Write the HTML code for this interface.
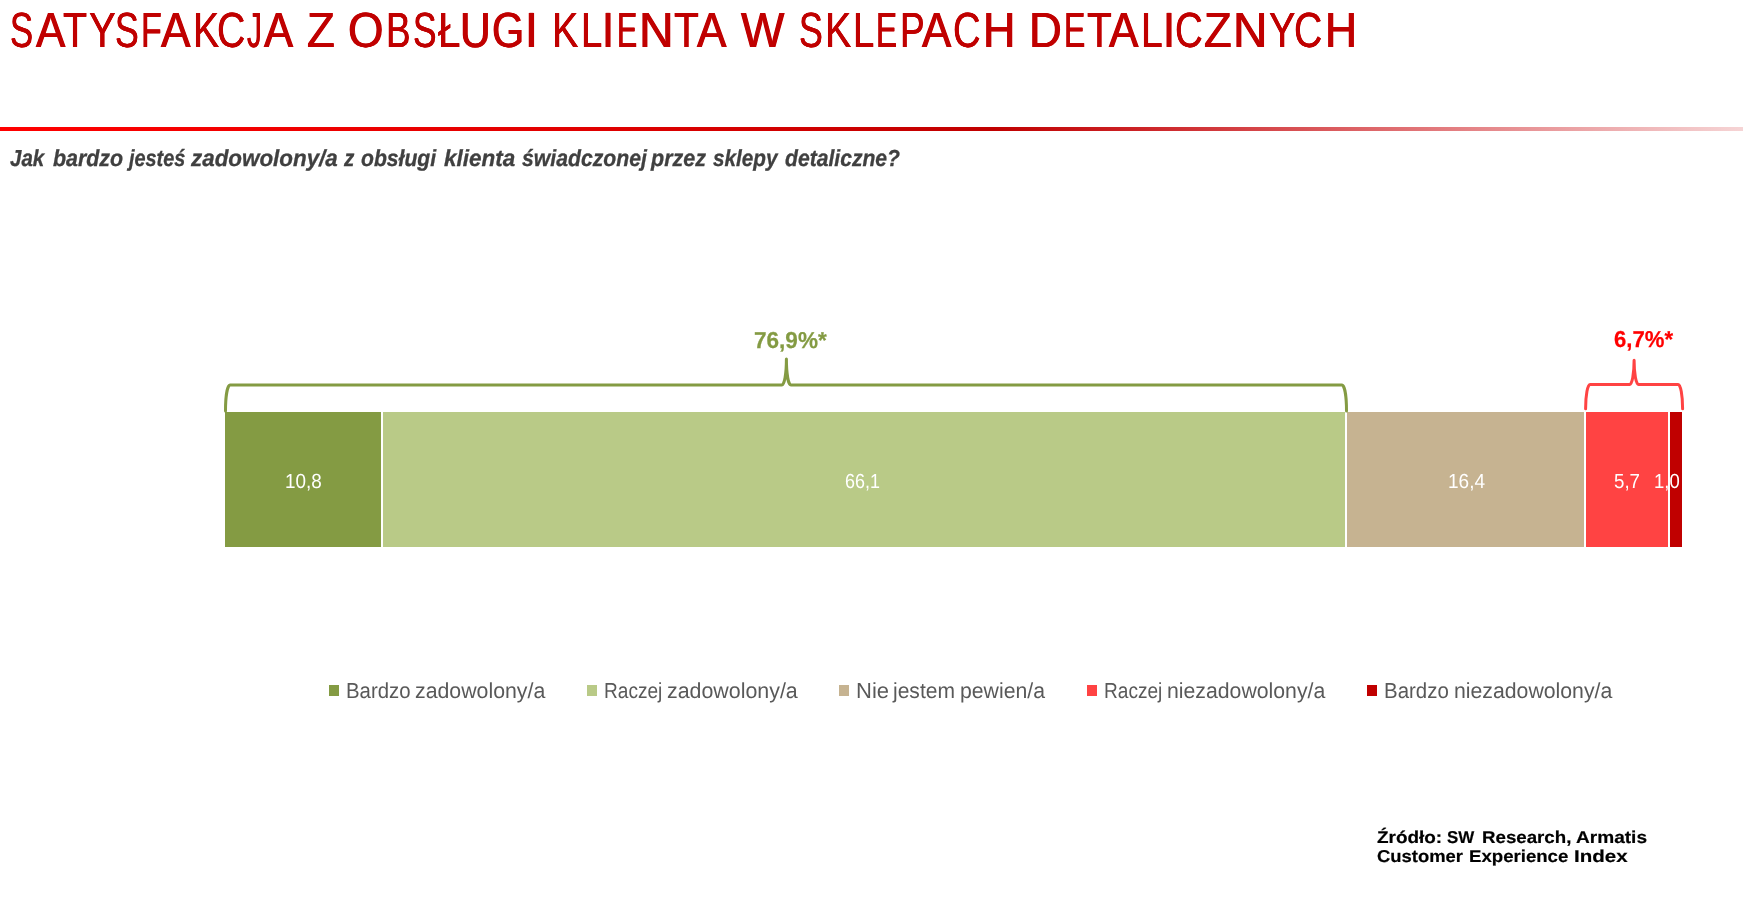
<!DOCTYPE html>
<html lang="pl">
<head>
<meta charset="utf-8">
<title>Satysfakcja z obsługi klienta</title>
<style>
  html, body { margin: 0; padding: 0; background: #ffffff; }
  body { width: 1743px; height: 899px; position: relative; overflow: hidden;
         font-family: "Liberation Sans", sans-serif; }
  .abs { position: absolute; white-space: nowrap; transform-origin: 0 0; line-height: 1; text-rendering: geometricPrecision; }
  #rule { position: absolute; left: 0; top: 127px; width: 1743px; height: 4px;
          background: linear-gradient(to right, #ff0000 0%, #e00000 34%, #c00000 57%, rgba(196,0,4,0.86) 65.6%, rgba(200,0,6,0.52) 82.6%, rgba(200,0,6,0.17) 100%); }
  .bar { position: absolute; top: 412px; height: 135px; }
  .mk  { position: absolute; top: 685.2px; width: 10px; height: 10.6px; }
  .tw { font-size:49.5px;text-shadow:0.45px 0 0 #c00000, -0.45px 0 0 #c00000; color:#c00000; }
  .sb { font-size:23.2px;font-weight:bold;font-style:italic;-webkit-text-stroke:0.3px #404040; color:#404040; }
  .val { font-size:20.4px; color:#ffffff; }
  .p1 { font-size:23.0px;font-weight:bold;-webkit-text-stroke:0.25px #849b43; color:#849b43; }
  .p2 { font-size:23.0px;font-weight:bold;-webkit-text-stroke:0.25px #ff0000; color:#ff0000; }
  .lg { font-size:21.7px; color:#595959; }
  .s1 { font-size:17.1px;font-weight:bold;-webkit-text-stroke:0.2px #000; color:#000000; }
  .s2 { font-size:17.1px;font-weight:bold;-webkit-text-stroke:0.2px #000; color:#000000; }
</style>
</head>
<body>
<div id="rule"></div>

<!-- bars -->
<div class="bar" style="left:225px; width:156px; background:#849b43;"></div>
<div class="bar" style="left:383px; width:962px; background:#b9ca87;"></div>
<div class="bar" style="left:1347px; width:237px; background:#c6b391;"></div>
<div class="bar" style="left:1586px; width:82px; background:#ff4343;"></div>
<div class="bar" style="left:1670px; width:12px; background:#c00000;"></div>

<!-- braces -->
<svg class="abs" style="left:0; top:0;" width="1743" height="899" viewBox="0 0 1743 899">
  <path d="M225.5 411 A4.5 26 0 0 1 230 385 L781.9 385 A4.5 26 0 0 0 786.4 359 A4.5 26 0 0 0 790.9 385 L1342 385 A4.5 26 0 0 1 1346.5 411"
        fill="none" stroke="#849b43" stroke-width="3" stroke-linecap="round" stroke-linejoin="round"/>
  <path d="M1585.6 408.7 A4.5 24.2 0 0 1 1590.1 384.5 L1629.6 384.5 A4.5 24.2 0 0 0 1634.1 360.3 A4.5 24.2 0 0 0 1638.6 384.5 L1678.1 384.5 A4.5 24.2 0 0 1 1682.6 408.7"
        fill="none" stroke="#ff4343" stroke-width="3" stroke-linecap="round" stroke-linejoin="round"/>
</svg>

<!-- legend markers -->
<div class="mk" style="left:329px; background:#849b43;"></div>
<div class="mk" style="left:587px; background:#b9ca87;"></div>
<div class="mk" style="left:839px; background:#c6b391;"></div>
<div class="mk" style="left:1087px; background:#ff4343;"></div>
<div class="mk" style="left:1367px; background:#c00000;"></div>

<!-- all text (title words, subtitle words, values, percentages, legend labels, source) -->
<div id="texts" style="position:absolute; left:0; top:0; width:1743px; height:899px; will-change:transform;">
<span class="abs tw" style="left:10.48px; top:6.00px; transform:scaleX(0.7005);">S</span>
<span class="abs tw" style="left:35.51px; top:6.00px; transform:scaleX(0.8890);">A</span>
<span class="abs tw" style="left:63.09px; top:6.00px; transform:scaleX(0.7962);">T</span>
<span class="abs tw" style="left:88.56px; top:6.00px; transform:scaleX(0.8105);">Y</span>
<span class="abs tw" style="left:115.46px; top:6.00px; transform:scaleX(0.7200);">S</span>
<span class="abs tw" style="left:141.32px; top:6.00px; transform:scaleX(0.6880);">F</span>
<span class="abs tw" style="left:160.87px; top:6.00px; transform:scaleX(0.8940);">A</span>
<span class="abs tw" style="left:192.53px; top:6.00px; transform:scaleX(0.7931);">K</span>
<span class="abs tw" style="left:217.41px; top:6.00px; transform:scaleX(0.7926);">C</span>
<span class="abs tw" style="left:246.84px; top:6.00px; transform:scaleX(0.6005);">J</span>
<span class="abs tw" style="left:263.77px; top:6.00px; transform:scaleX(0.8821);">A</span>
<span class="abs tw" style="left:307.05px; top:6.00px; transform:scaleX(0.9189);">Z</span>
<span class="abs tw" style="left:348.26px; top:6.00px; transform:scaleX(0.9217);">O</span>
<span class="abs tw" style="left:386.41px; top:6.00px; transform:scaleX(0.7444);">B</span>
<span class="abs tw" style="left:412.82px; top:6.00px; transform:scaleX(0.7128);">S</span>
<span class="abs tw" style="left:437.80px; top:6.00px; transform:scaleX(0.8152);">Ł</span>
<span class="abs tw" style="left:460.29px; top:6.00px; transform:scaleX(0.8591);">U</span>
<span class="abs tw" style="left:492.33px; top:6.00px; transform:scaleX(0.8346);">G</span>
<span class="abs tw" style="left:524.93px; top:6.00px; transform:scaleX(0.9333);">I</span>
<span class="abs tw" style="left:552.10px; top:6.00px; transform:scaleX(0.8000);">K</span>
<span class="abs tw" style="left:580.60px; top:6.00px; transform:scaleX(0.7733);">L</span>
<span class="abs tw" style="left:601.88px; top:6.00px; transform:scaleX(0.8762);">I</span>
<span class="abs tw" style="left:616.50px; top:6.00px; transform:scaleX(0.6145);">E</span>
<span class="abs tw" style="left:639.06px; top:6.00px; transform:scaleX(0.9699);">N</span>
<span class="abs tw" style="left:674.38px; top:6.00px; transform:scaleX(0.8243);">T</span>
<span class="abs tw" style="left:696.52px; top:6.00px; transform:scaleX(0.8925);">A</span>
<span class="abs tw" style="left:740.73px; top:6.00px; transform:scaleX(0.9291);">W</span>
<span class="abs tw" style="left:798.66px; top:6.00px; transform:scaleX(0.7214);">S</span>
<span class="abs tw" style="left:825.11px; top:6.00px; transform:scaleX(0.7966);">K</span>
<span class="abs tw" style="left:853.20px; top:6.00px; transform:scaleX(0.7733);">L</span>
<span class="abs tw" style="left:875.80px; top:6.00px; transform:scaleX(0.6400);">E</span>
<span class="abs tw" style="left:899.69px; top:6.00px; transform:scaleX(0.7481);">P</span>
<span class="abs tw" style="left:922.32px; top:6.00px; transform:scaleX(0.8866);">A</span>
<span class="abs tw" style="left:952.66px; top:6.00px; transform:scaleX(0.7721);">C</span>
<span class="abs tw" style="left:982.60px; top:6.00px; transform:scaleX(0.9062);">H</span>
<span class="abs tw" style="left:1029.46px; top:6.00px; transform:scaleX(0.9167);">D</span>
<span class="abs tw" style="left:1064.47px; top:6.00px; transform:scaleX(0.6473);">E</span>
<span class="abs tw" style="left:1086.98px; top:6.00px; transform:scaleX(0.8209);">T</span>
<span class="abs tw" style="left:1109.32px; top:6.00px; transform:scaleX(0.8925);">A</span>
<span class="abs tw" style="left:1140.75px; top:6.00px; transform:scaleX(0.7867);">L</span>
<span class="abs tw" style="left:1163.08px; top:6.00px; transform:scaleX(0.8762);">I</span>
<span class="abs tw" style="left:1175.44px; top:6.00px; transform:scaleX(0.7783);">C</span>
<span class="abs tw" style="left:1204.46px; top:6.00px; transform:scaleX(0.9153);">Z</span>
<span class="abs tw" style="left:1233.19px; top:6.00px; transform:scaleX(0.9628);">N</span>
<span class="abs tw" style="left:1268.50px; top:6.00px; transform:scaleX(0.8000);">Y</span>
<span class="abs tw" style="left:1294.12px; top:6.00px; transform:scaleX(0.7907);">C</span>
<span class="abs tw" style="left:1324.74px; top:6.00px; transform:scaleX(0.8956);">H</span>
<span class="abs sb" style="left:9.88px; top:146.84px; transform:scaleX(0.8835);">Jak</span>
<span class="abs sb" style="left:52.67px; top:146.84px; transform:scaleX(0.9227);">bardzo</span>
<span class="abs sb" style="left:128.84px; top:146.84px; transform:scaleX(0.8563);">jesteś</span>
<span class="abs sb" style="left:191.24px; top:146.84px; transform:scaleX(0.9654);">zadowolony/a</span>
<span class="abs sb" style="left:344.12px; top:146.84px; transform:scaleX(0.8936);">z</span>
<span class="abs sb" style="left:361.34px; top:146.84px; transform:scaleX(0.9115);">obsługi</span>
<span class="abs sb" style="left:444.06px; top:146.84px; transform:scaleX(0.9691);">klienta</span>
<span class="abs sb" style="left:521.97px; top:146.84px; transform:scaleX(0.9141);">świadczonej</span>
<span class="abs sb" style="left:650.76px; top:146.84px; transform:scaleX(0.9272);">przez</span>
<span class="abs sb" style="left:713.28px; top:146.84px; transform:scaleX(0.8932);">sklepy</span>
<span class="abs sb" style="left:785.04px; top:146.84px; transform:scaleX(0.9108);">detaliczne?</span>
<span class="abs val" style="left:284.81px; top:472.02px; transform:scaleX(0.9262);">10,8</span>
<span class="abs val" style="left:845.32px; top:472.02px; transform:scaleX(0.8795);">66,1</span>
<span class="abs val" style="left:1447.70px; top:472.02px; transform:scaleX(0.9333);">16,4</span>
<span class="abs val" style="left:1614.08px; top:472.02px; transform:scaleX(0.9181);">5,7</span>
<span class="abs val" style="left:1654.34px; top:472.02px; transform:scaleX(0.9077);">1,0</span>
<span class="abs p1" style="left:754.12px; top:328.87px; transform:scaleX(0.9808);">76,9%*</span>
<span class="abs p2" style="left:1613.78px; top:327.82px; transform:scaleX(0.9613);">6,7%*</span>
<span class="abs lg" style="left:345.86px; top:680.04px; transform:scaleX(0.9394);">Bardzo</span>
<span class="abs lg" style="left:415.42px; top:680.04px; transform:scaleX(0.9822);">zadowolony/a</span>
<span class="abs lg" style="left:603.96px; top:680.04px; transform:scaleX(0.8794);">Raczej</span>
<span class="abs lg" style="left:667.31px; top:680.04px; transform:scaleX(0.9860);">zadowolony/a</span>
<span class="abs lg" style="left:855.72px; top:680.04px; transform:scaleX(1.0151);">Nie</span>
<span class="abs lg" style="left:893.28px; top:680.04px; transform:scaleX(0.9698);">jestem</span>
<span class="abs lg" style="left:960.23px; top:680.04px; transform:scaleX(0.9783);">pewien/a</span>
<span class="abs lg" style="left:1103.96px; top:680.04px; transform:scaleX(0.8794);">Raczej</span>
<span class="abs lg" style="left:1167.13px; top:680.04px; transform:scaleX(0.9794);">niezadowolony/a</span>
<span class="abs lg" style="left:1383.95px; top:680.04px; transform:scaleX(0.9424);">Bardzo</span>
<span class="abs lg" style="left:1453.83px; top:680.04px; transform:scaleX(0.9794);">niezadowolony/a</span>
<span class="abs s1" style="left:1376.85px; top:829.00px; transform:scaleX(1.1066);">Źródło:</span>
<span class="abs s1" style="left:1447.11px; top:829.00px; transform:scaleX(0.9889);">SW</span>
<span class="abs s1" style="left:1481.51px; top:829.00px; transform:scaleX(1.0934);">Research,</span>
<span class="abs s1" style="left:1576.12px; top:829.00px; transform:scaleX(1.1155);">Armatis</span>
<span class="abs s2" style="left:1376.86px; top:848.00px; transform:scaleX(1.0776);">Customer</span>
<span class="abs s2" style="left:1468.91px; top:848.00px; transform:scaleX(1.0886);">Experience</span>
<span class="abs s2" style="left:1574.10px; top:848.00px; transform:scaleX(1.2000);">Index</span>
</div>
</body>
</html>
